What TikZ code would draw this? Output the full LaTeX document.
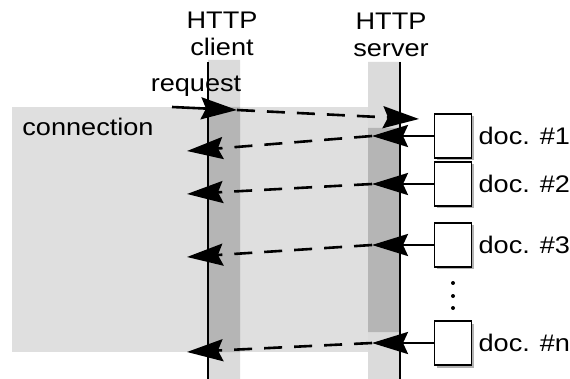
\documentclass[tikz,border=0pt]{standalone}
\usepackage{fontspec}
\setmainfont[FakeStretch=1.13]{Liberation Sans}
\usetikzlibrary{arrows.meta,shadows,positioning}
\tikzset{
  doc/.style={draw, line width=1.8pt, fill=white, minimum width=37pt,
    minimum height=44pt, inner sep=0pt,
    drop shadow={shadow xshift=2.5pt, shadow yshift=-2.5pt, fill=gray!60, opacity=1}},
  lbl/.style={font=\fontsize{24}{27}\selectfont, inner sep=0pt},
  solidarrow/.style={line width=2.6pt, -{Stealth[length=36pt,width=22pt,inset=5pt]}},
  dasharrow/.style={solidarrow, dash pattern=on 18pt off 12pt},
}
\begin{document}
\begin{tikzpicture}[x=1pt,y=-1pt]
      \useasboundingbox (0,0) rectangle (570,379);
      % shaded connection and bands
      \fill[gray!25] (12,107) rectangle (400,352);
      \fill[gray!28] (208,60) rectangle (240,379)
                     (368,62) rectangle (400,379);
      \fill[gray!58] (208,107) rectangle (240,352)
                     (368,128) rectangle (400,332);
      \draw[line width=2.5pt] (208,62) -- (208,379)
                              (400,62) -- (400,379);
      \node[lbl, align=center] (client) at (222,34) {HTTP\\client};
      \node[lbl, align=center] (server) at (391,35) {HTTP\\server};
      \node[lbl] (conn) at (88,127) {connection};
      \node[lbl] (req) at (196,86) {request};
      % documents
      \foreach \i/\y/\cy in {1/136/151, 2/184/194, 3/245/257, n/343/352} {
        \node[doc] (d\i) at (453,\y) {};
        \node[lbl, right=6pt of d\i] (t\i) {doc. \#\i};
        \coordinate (s\i) at (372,\y);
        \coordinate (c\i) at (187,\cy);
        \draw[solidarrow] (d\i.west) -- (s\i);
        \draw[dasharrow] (s\i) -- (c\i);
      }
      \fill (453,283) circle (2pt) (453,296) circle (2pt) (453,308) circle (2pt);
      % request
      \coordinate (r0) at (172,107);
      \coordinate (r1) at (237,110);
      \coordinate (r2) at (419,119);
      \draw[solidarrow] (r0) -- (r1);
      \draw[dasharrow] (r1) -- (r2);
\end{tikzpicture}
\end{document}
